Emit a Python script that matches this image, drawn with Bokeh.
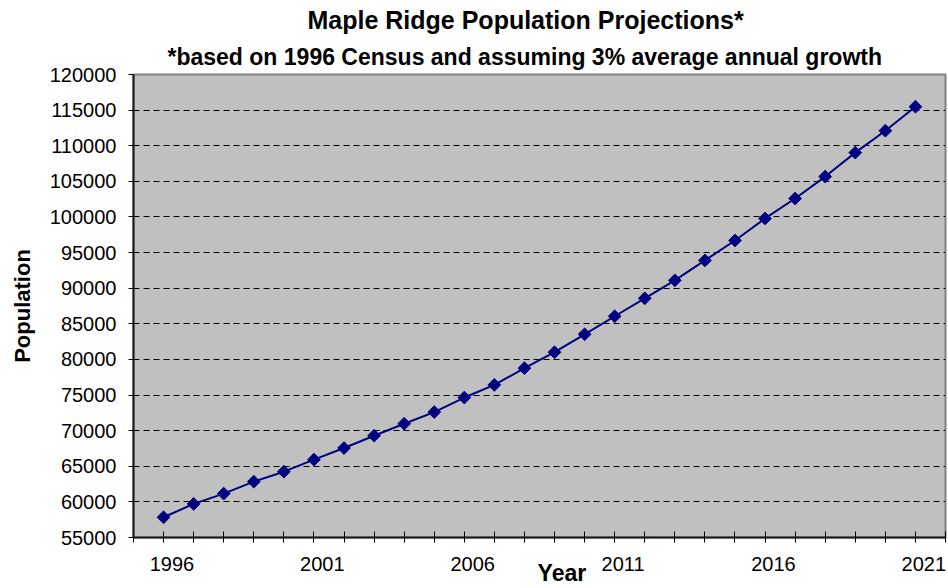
import numpy as np
from bokeh.plotting import figure
from bokeh.models import FixedTicker, BasicTickFormatter, Title
from bokeh.embed import file_html
from bokeh.resources import INLINE

# Projected population of Maple Ridge, one value per year
years = list(range(1996, 2022))
population = [57840, 59720, 61160, 62840, 64240, 65930, 67560, 69290, 70970,
              72610, 74650, 76430, 78770, 81010, 83530, 86060, 88580, 91100,
              93900, 96700, 99790, 102590, 105670, 109030, 112110, 115480]

y_ticks = list(range(55000, 120001, 5000))
x_ticks = list(range(1995, 2023))
x_labelled = [1996, 2001, 2006, 2011, 2016, 2021]

FONT = "Liberation Sans"
NAVY = "#000080"
NBSP = "\u00a0"

p = figure(width=948, height=588,
           x_range=(1995, 2022), y_range=(55000, 120000),
           output_backend="svg", toolbar_location=None,
           min_border_left=133, min_border_right=3,
           min_border_top=73, min_border_bottom=50,
           background_fill_color="#C0C0C0", border_fill_color="white")

p.outline_line_color = "#808080"
p.outline_line_width = 2

# titles: subtitle sits nearest the plot, main title above it
p.add_layout(Title(text="*based on 1996 Census and assuming 3% average annual growth",
                   text_font=FONT, text_font_size="23px", text_font_style="bold",
                   text_color="black", align="left", offset=34, standoff=9), "above")
p.add_layout(Title(text="Maple Ridge Population Projections*",
                   text_font=FONT, text_font_size="25px", text_font_style="bold",
                   text_color="black", align="left", offset=174, standoff=7), "above")

# y axis
p.yaxis.ticker = FixedTicker(ticks=y_ticks)
p.yaxis.formatter = BasicTickFormatter(use_scientific=False)
p.yaxis.major_label_text_font = FONT
p.yaxis.major_label_text_font_size = "20px"
p.yaxis.major_label_text_color = "black"
p.yaxis.major_label_standoff = 12
p.yaxis.major_tick_in = 0
p.yaxis.major_tick_out = 5
p.yaxis.minor_tick_line_color = None
p.yaxis.axis_label = "Population"
p.yaxis.axis_label_text_font = FONT
p.yaxis.axis_label_text_font_size = "22px"
p.yaxis.axis_label_text_font_style = "bold"
p.yaxis.axis_label_text_color = "black"
p.yaxis.axis_label_standoff = 12

# x axis: a tick every year, a label every fifth year (set a little right of its tick)
p.xaxis.ticker = FixedTicker(ticks=x_ticks)
p.xaxis.major_label_overrides = {
    y: (NBSP * 3 + str(y) if y in x_labelled else "") for y in x_ticks
}
p.xaxis.major_label_text_font = FONT
p.xaxis.major_label_text_font_size = "20px"
p.xaxis.major_label_text_color = "black"
p.xaxis.major_label_standoff = 10
p.xaxis.major_tick_in = 6
p.xaxis.major_tick_out = 5
p.xaxis.minor_tick_line_color = None
# axis title tucked up between the 2006 and 2011 labels
p.xaxis.axis_label = NBSP * 7 + "Year"
p.xaxis.axis_label_text_font = FONT
p.xaxis.axis_label_text_font_size = "23px"
p.xaxis.axis_label_text_font_style = "bold"
p.xaxis.axis_label_text_color = "black"
p.xaxis.axis_label_standoff = -18

for ax in (p.xaxis, p.yaxis):
    ax.axis_line_color = "#1a1a1a"
    ax.axis_line_width = 2
    ax.major_tick_line_color = "black"
    ax.major_tick_line_width = 1

# dashed horizontal gridlines
p.xgrid.visible = False
p.ygrid.ticker = FixedTicker(ticks=y_ticks[1:-1])
p.ygrid.grid_line_color = "black"
p.ygrid.grid_line_dash = "6 4"
p.ygrid.grid_line_width = 1

p.line(years, population, line_color=NAVY, line_width=2)
p.scatter(years, population, marker="square", angle=np.pi / 4, size=9,
          fill_color=NAVY, line_color=NAVY)

open("out.html", "w").write(file_html(p, INLINE))
